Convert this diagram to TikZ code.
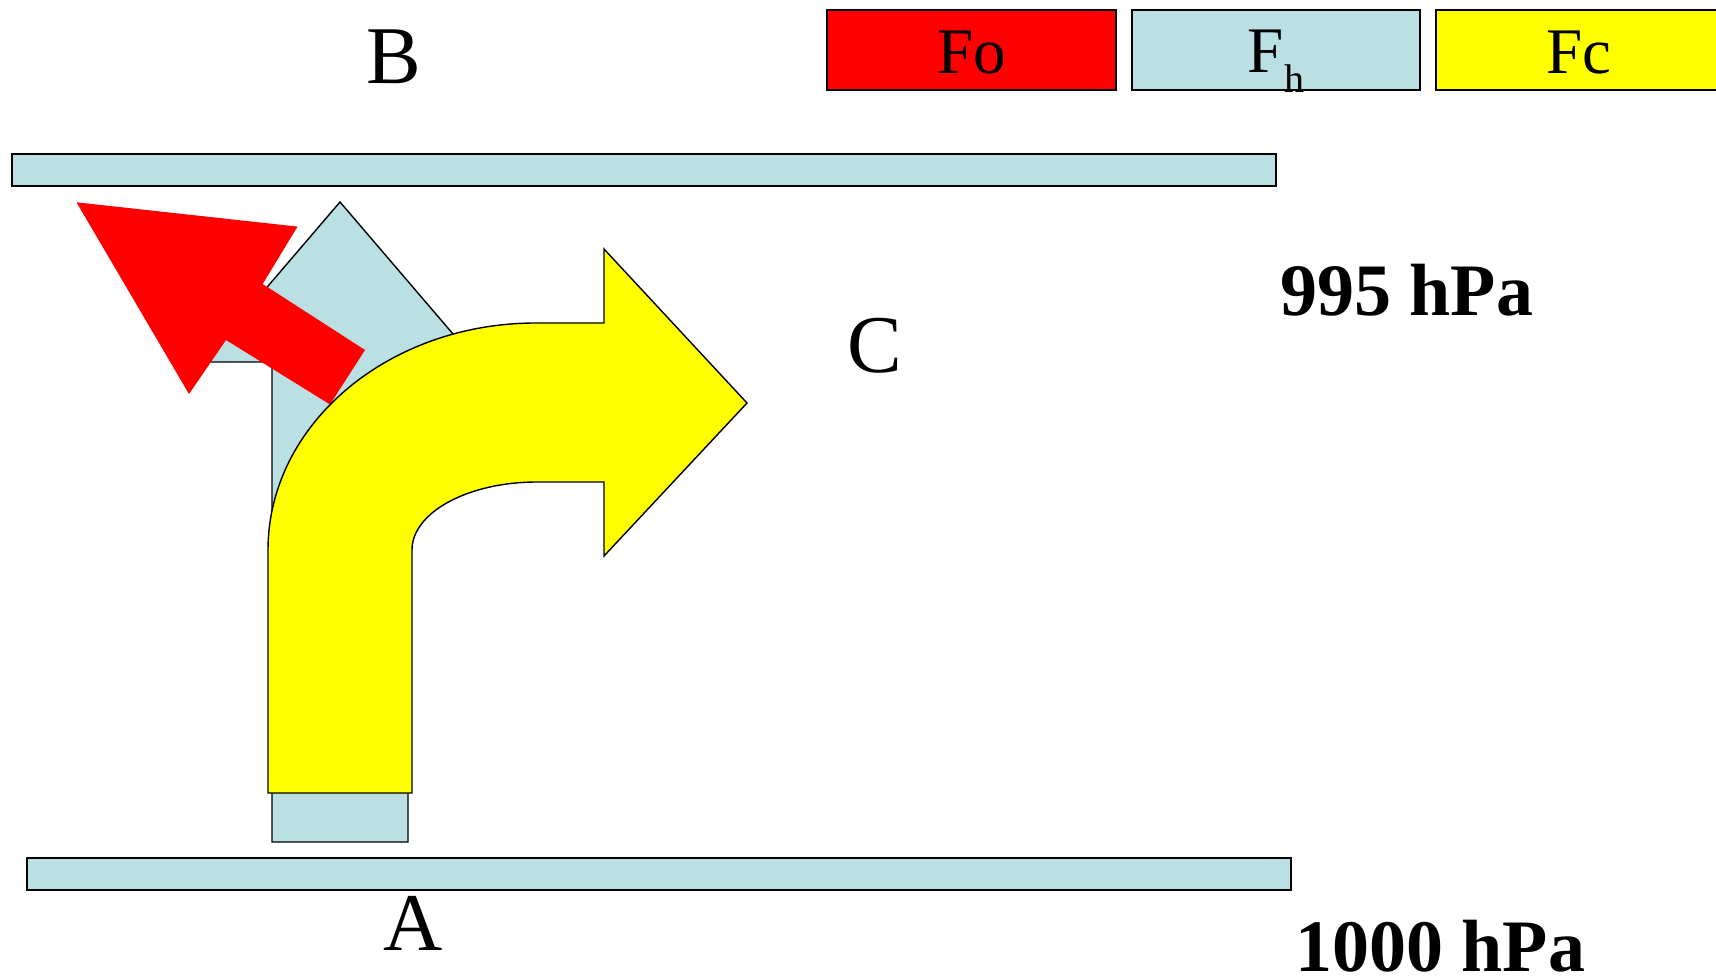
\documentclass[tikz,border=0pt]{standalone}
\usepackage{fontspec}
\setmainfont{Liberation Serif}
\definecolor{fhblue}{RGB}{186,224,227}
\definecolor{foRed}{RGB}{255,0,0}
\definecolor{fcYellow}{RGB}{255,255,0}
\begin{document}
\begin{tikzpicture}[x=1pt,y=-1pt,
  bar/.style={draw=black,line width=2pt,fill=fhblue},
  legbox/.style={draw=black,line width=2.2pt},
  shapeline/.style={draw=black,line width=1.4pt,line join=miter},
  bigletter/.style={inner sep=0pt,anchor=base,font=\fontsize{82}{90}\selectfont},
  pressure/.style={inner sep=0pt,anchor=base west,font=\fontsize{74}{80}\selectfont\bfseries},
  legtext/.style={inner sep=0pt,anchor=base,font=\fontsize{65}{70}\selectfont}]
\useasboundingbox (0,0) rectangle (1716,976);
\clip (0,0) rectangle (1716,976);
% pressure surfaces
\path[bar] (12,154) rectangle (1276,186);
\path[bar] (27,858) rectangle (1291,890);
% legend
\path[legbox,fill=foRed] (827,10) rectangle (1116,90);
\path[legbox,fill=fhblue] (1132,10) rectangle (1420,90);
\path[legbox,fill=fcYellow] (1436,10) rectangle (1724,90);
\node[legtext] (fo) at (971.5,74) {Fo};
\node[legtext] (fh) at (1276,73) {F\raisebox{-0.3em}{\fontsize{40}{44}\selectfont h}};
\node[legtext] (fc) at (1579,74) {Fc};
% blue up arrow (pressure gradient force)
\path[shapeline,fill=fhblue] (272,842) -- (272,362) -- (203,362) -- (340,202) -- (477,362) -- (408,362) -- (408,842) -- cycle;
% red arrow (Coriolis)
\path[fill=foRed] (76.5,202.3) -- (297.5,226.6) -- (262.7,284) -- (365,350) -- (330,404.5) -- (226,340) -- (189,394) -- cycle;
% yellow curved arrow (resulting)
\path[shapeline,fill=fcYellow] (268,793) -- (268,550)
  .. controls (268,424.6) and (388,323) .. (536,323)
  -- (604,323) -- (604,249) -- (747,403) -- (604,556) -- (604,482) -- (537,482)
  .. controls (468,482) and (412,512.4) .. (412,550)
  -- (412,793) -- cycle;
% labels
\node[bigletter] (B) at (394,84) {B};
\node[bigletter] (A) at (413.5,950) {A};
\node[bigletter] (C) at (875,372) {C};
\node[pressure] (p995) at (1280,316) {995 hPa};
\node[pressure] (p1000) at (1295,971.5) {1000 hPa};
\end{tikzpicture}
\end{document}
